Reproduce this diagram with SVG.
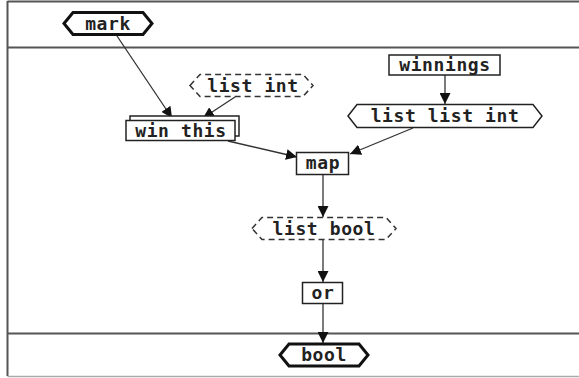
<svg xmlns="http://www.w3.org/2000/svg" width="579" height="378" viewBox="0 0 579 378">
<style>
.t{font-family:"DejaVu Sans Mono","Liberation Mono",monospace;font-size:18px;font-weight:bold;letter-spacing:0.6px;fill:#222;text-anchor:middle}
.box{fill:#fff;stroke:#222;stroke-width:1.5}
.thick{fill:#fff;stroke:#111;stroke-width:3;stroke-linejoin:miter}
.dash{fill:#fff;stroke:#333;stroke-width:1.5;stroke-dasharray:6 4}
.e{stroke:#333;stroke-width:1.3;fill:none;marker-end:url(#ah)}
.frame{stroke:#555;stroke-width:2;fill:none}
</style>
<defs>
<marker id="ah" viewBox="0 0 10 10" refX="10" refY="5" markerWidth="11" markerHeight="11" markerUnits="userSpaceOnUse" orient="auto">
<path d="M0,0 L10,5 L0,10 z" fill="#111"/>
</marker>
</defs>
<rect width="579" height="378" fill="#fff"/>
<g id="frame">
<line class="frame" x1="7.5" y1="1.5" x2="579" y2="1.5" stroke="#333"/>
<line class="frame" x1="7.5" y1="1" x2="7.5" y2="376"/>
<line class="frame" x1="7.5" y1="47.5" x2="579" y2="47.5" stroke="#777"/>
<line class="frame" x1="7.5" y1="333.5" x2="579" y2="333.5" stroke="#777"/>
<line x1="7.5" y1="376.5" x2="579" y2="376.5" stroke="#aaa" stroke-width="1.5"/>
</g>
<g id="connectors">
<line class="e" x1="117" y1="36" x2="172" y2="118"/>
<line class="e" x1="235" y1="97" x2="203" y2="118"/>
<line class="e" x1="228" y1="141" x2="297" y2="157"/>
<line class="e" x1="413" y1="128" x2="350" y2="154"/>
<line class="e" x1="445" y1="75" x2="445" y2="104"/>
<line class="e" x1="323" y1="175" x2="323" y2="217"/>
<line class="e" x1="323" y1="240" x2="323" y2="282"/>
<line class="e" x1="323" y1="304" x2="323" y2="343"/>
</g>
<g id="mark">
<polygon class="thick" points="64,23.5 73,12.5 143,12.5 152,23.5 143,34.5 73,34.5"/>
<text class="t" x="108" y="29.5">mark</text>
</g>
<g id="list-int">
<polygon class="dash" points="190,85.5 200,74.5 303,74.5 313,85.5 303,96.5 200,96.5"/>
<text class="t" x="253" y="91.5">list int</text>
</g>
<g id="win-this">
<rect class="box" x="130" y="116" width="109" height="20"/>
<rect class="box" x="126" y="120.5" width="109" height="20"/>
<text class="t" x="181" y="136.5">win this</text>
</g>
<g id="winnings">
<rect class="box" x="389" y="55" width="111" height="20"/>
<text class="t" x="445" y="71">winnings</text>
</g>
<g id="list-list-int">
<polygon class="box" points="348,116 357,104.5 533,104.5 542,116 533,127.5 357,127.5"/>
<text class="t" x="445" y="122">list list int</text>
</g>
<g id="map">
<rect class="box" x="296.5" y="152.5" width="52" height="22"/>
<text class="t" x="323" y="169">map</text>
</g>
<g id="list-bool">
<polygon class="dash" points="252,228.5 262,217.5 386,217.5 396,228.5 386,239.5 262,239.5"/>
<text class="t" x="324" y="234.5">list bool</text>
</g>
<g id="or">
<rect class="box" x="302.5" y="282.5" width="40" height="21"/>
<text class="t" x="323" y="298.5">or</text>
</g>
<g id="bool">
<polygon class="thick" points="280,355 289,344 359,344 368,355 359,366 289,366"/>
<text class="t" x="324" y="361">bool</text>
</g>
</svg>
